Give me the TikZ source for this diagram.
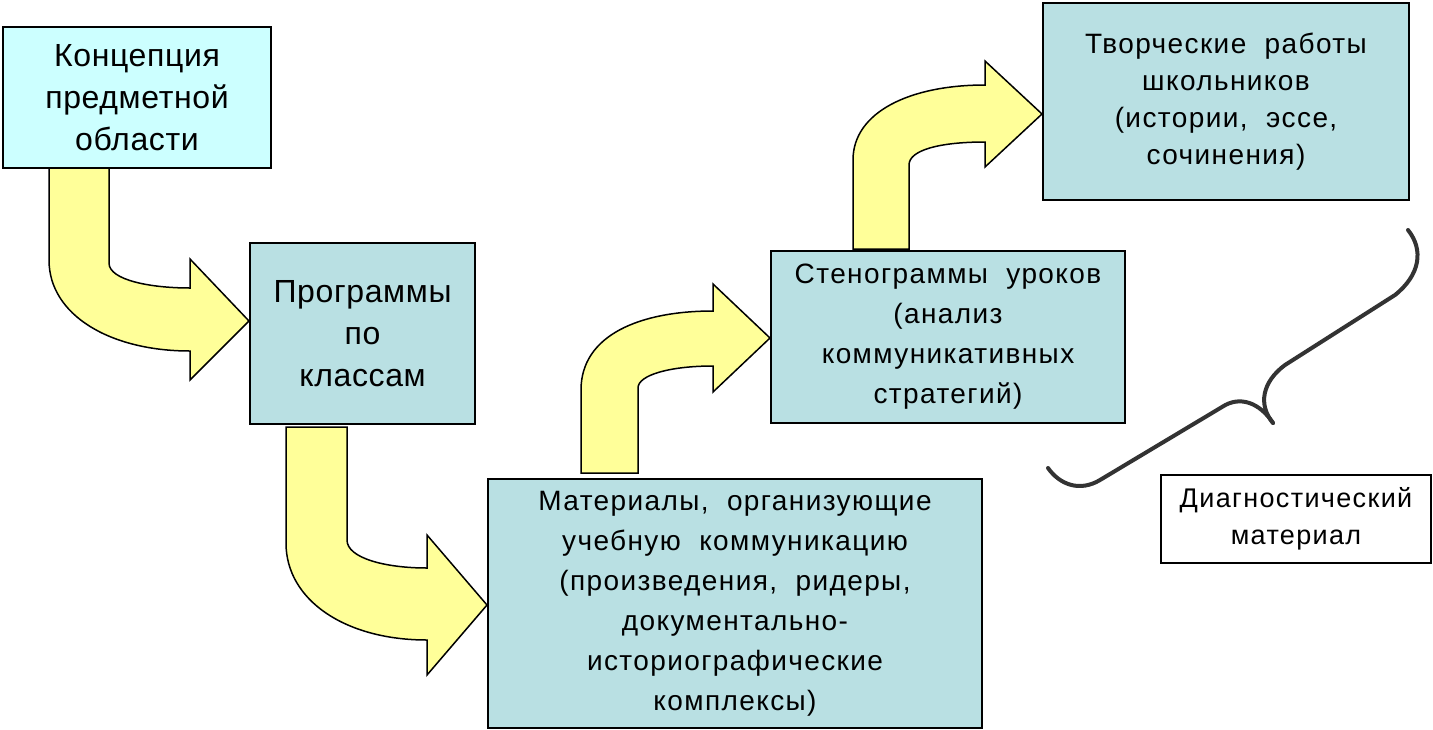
\documentclass[tikz,border=0pt]{standalone}
\usepackage{fontspec}
\setmainfont{Liberation Sans}
\usetikzlibrary{positioning}
\definecolor{conceptfill}{HTML}{CCFFFF}
\definecolor{stagefill}{HTML}{B9E0E3}
\definecolor{arrowfill}{HTML}{FFFF99}
\definecolor{bracegray}{HTML}{333333}

\begin{document}
\begin{tikzpicture}[x=1pt,y=-1pt,
	stagebox/.style={draw, line width=2pt, fill=stagefill, align=center, inner sep=0pt, anchor=north west},
	bigtext/.style={font=\fontsize{32}{42}\selectfont\addfontfeatures{LetterSpace=2}},
	smalltext/.style={font=\fontsize{28}{40}\selectfont\addfontfeatures{LetterSpace=5}},
	blockarrow/.style={draw, line width=1.5pt, fill=arrowfill, line join=miter}]
	\useasboundingbox (0,0) rectangle (1433,729);

	% bent block arrows
	\draw[blockarrow] (49,167) -- (109,167) -- (109,263) .. controls (109,280) and (150,288) .. (190,288) -- (190,259) -- (249,321) -- (190,380) -- (190,351) .. controls (110,351) and (49,315) .. (49,260) -- cycle;
	\draw[blockarrow] (286,427) -- (347,427) -- (347,540) .. controls (347,558) and (385,568) .. (427,568) -- (427,535) -- (487,605) -- (427,675) -- (427,640) .. controls (345,640) and (286,600) .. (286,543) -- cycle;
	\draw[blockarrow] (581,473) -- (638,473) -- (638,388) .. controls (638,375) and (670,366) .. (713,366) -- (713,392) -- (770,338) -- (713,284) -- (713,311) .. controls (640,311) and (581,335) .. (581,390) -- cycle;
	\draw[blockarrow] (853,249) -- (909,249) -- (909,165) .. controls (909,150) and (940,142) .. (985,142) -- (985,167) -- (1042,114) -- (985,61) -- (985,85) .. controls (910,85) and (853,112) .. (853,160) -- cycle;

	\node[stagebox, bigtext, fill=conceptfill, minimum width=268, minimum height=141] (concept) at (2,26) {Концепция\\предметной\\области};
	\node[stagebox, bigtext, minimum width=225, minimum height=181] (programs) at (249,242) {Программы\\по\\классам};
	\node[stagebox, smalltext, minimum width=494, minimum height=249] (materials) at (487,478) {Материалы,\ \ организующие\\учебную\ \ коммуникацию\\(произведения,\ \ ридеры,\\документально-\\историографические\\комплексы)};
	\node[stagebox, smalltext, minimum width=354, minimum height=172] (lessons) at (770,250) {Стенограммы\ \ уроков\\(анализ\\коммуникативных\\стратегий)};
	\node[stagebox, smalltext, minimum width=366, minimum height=197, font=\fontsize{28}{37}\selectfont\addfontfeatures{LetterSpace=5}] (works) at (1042,2) {Творческие\ \ работы\\школьников\\(истории,\ \ эссе,\\сочинения)};
	\node[stagebox, fill=white, font=\fontsize{27}{37}\selectfont\addfontfeatures{LetterSpace=5}, minimum width=270, minimum height=88] (diag) at (1160,474) {Диагностический\\материал};

	% brace
	\draw[bracegray, line width=4pt, line cap=round] (1408,230) .. controls (1424,250) and (1420,275) .. (1395,295) -- (1285,365) .. controls (1262,382) and (1258,405) .. (1273,423);
	\draw[bracegray, line width=4pt, line cap=round] (1273,423) .. controls (1260,403) and (1240,395) .. (1222,407) -- (1100,480) .. controls (1080,492) and (1060,485) .. (1048,468);
\end{tikzpicture}
\end{document}
